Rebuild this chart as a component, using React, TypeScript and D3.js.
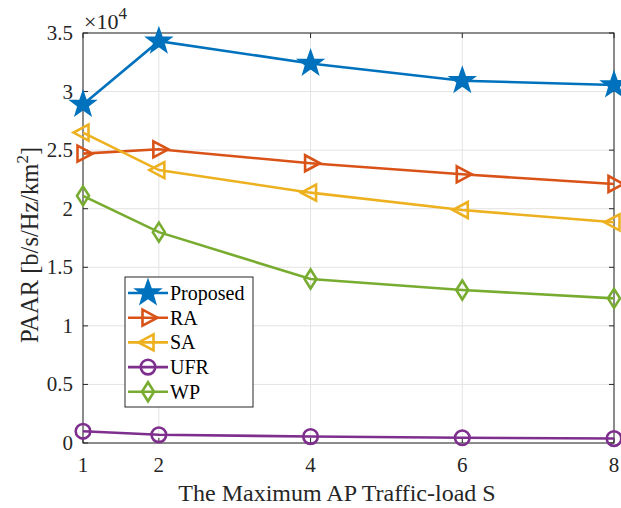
import React from "react";
import * as d3 from "d3";

const xs = [1, 2, 4, 6, 8];
const proposed = [28900, 34300, 32400, 30930, 30560];
const ra = [24700, 25070, 23880, 22940, 22110];
const sa = [26500, 23300, 21370, 19890, 18840];
const ufr = [1000, 700, 550, 450, 380];
const wp = [21100, 18000, 14000, 13060, 12350];
const seriesNames = ["Proposed", "RA", "SA", "UFR", "WP"];
const colors = ["#0072BD", "#D95319", "#EDB120", "#7E2F8E", "#77AC30"];
const markers = ["star", "tright", "tleft", "circle", "diamond"];
const yTicks = [0, 0.5, 1, 1.5, 2, 2.5, 3, 3.5];
const xTicks = [1, 2, 4, 6, 8];

const W = 621, H = 508;
const L = 83, R = 614, T = 33, B = 443;

function markerPath(type: string): string {
  if (type === "star") {
    const pts: [number, number][] = [];
    for (let i = 0; i < 10; i++) {
      const r = i % 2 === 0 ? 11.5 : 4.6;
      const a = -Math.PI / 2 + (i * Math.PI) / 5;
      pts.push([r * Math.cos(a), r * Math.sin(a)]);
    }
    return "M" + pts.map((p) => p.join(",")).join("L") + "Z";
  }
  if (type === "tright") return `M-5.5,-8L9.5,0L-5.5,8Z`;
  if (type === "tleft") return `M5.5,-8L-9.5,0L5.5,8Z`;
  if (type === "diamond") return `M0,-9.5L6,0L0,9.5L-6,0Z`;
  const r = 7.3;
  return `M${r},0A${r},${r} 0 1,1 ${-r},0A${r},${r} 0 1,1 ${r},0Z`;
}

export default function App() {
  const x = d3.scaleLinear().domain([1, 8]).range([L, R]);
  const y = d3.scaleLinear().domain([0, 3.5]).range([B, T]);
  const data = [proposed, ra, sa, ufr, wp];
  const line = d3
    .line<number>()
    .x((_, i) => x(xs[i]))
    .y((d) => y(d / 1e4));
  const font = "Liberation Serif, Times New Roman, serif";
  const legX = 125, legY = 277, legW = 128, legH = 130;
  return (
    <svg width={W} height={H} style={{ position: "absolute", left: 0, top: 0, background: "#fff", fontFamily: font }}>
      <rect x={0} y={0} width={W} height={H} fill="#fff" />
      {xTicks.map((t) => (
        <line key={"gx" + t} x1={x(t)} x2={x(t)} y1={T} y2={B} stroke="#e3e3e3" strokeWidth={1} />
      ))}
      {yTicks.map((t) => (
        <line key={"gy" + t} x1={L} x2={R} y1={y(t)} y2={y(t)} stroke="#e3e3e3" strokeWidth={1} />
      ))}
      {xTicks.map((t) => (
        <g key={"tx" + t}>
          <line x1={x(t)} x2={x(t)} y1={B} y2={B - 5} stroke="#262626" />
          <line x1={x(t)} x2={x(t)} y1={T} y2={T + 5} stroke="#262626" />
          <text x={x(t)} y={B + 29} textAnchor="middle" fontSize={21} fill="#262626">{t}</text>
        </g>
      ))}
      {yTicks.map((t) => (
        <g key={"ty" + t}>
          <line x1={L} x2={L + 5} y1={y(t)} y2={y(t)} stroke="#262626" />
          <line x1={R} x2={R - 5} y1={y(t)} y2={y(t)} stroke="#262626" />
          <text x={L - 10} y={y(t) + 7} textAnchor="end" fontSize={21} fill="#262626">{t}</text>
        </g>
      ))}
      <rect x={L} y={T} width={R - L} height={B - T} fill="none" stroke="#262626" strokeWidth={1} />
      <text x={84} y={29} fontSize={22} fill="#262626">
        ×10<tspan dy={-10} fontSize={17}>4</tspan>
      </text>
      {data.map((s, k) => (
        <g key={"s" + k}>
          <path d={line(s) || ""} fill="none" stroke={colors[k]} strokeWidth={2.6} />
          {s.map((v, i) => (
            <path
              key={i}
              d={markerPath(markers[k])}
              transform={`translate(${x(xs[i])},${y(v / 1e4)})`}
              fill={markers[k] === "star" ? colors[k] : "none"}
              stroke={colors[k]}
              strokeWidth={2.6}
            />
          ))}
        </g>
      ))}
      <rect x={legX} y={legY} width={legW} height={legH} fill="#fff" stroke="#262626" strokeWidth={1} />
      {seriesNames.map((n, k) => {
        const ly = legY + 16 + k * 24.7;
        return (
          <g key={"l" + n}>
            <line x1={legX + 3} x2={legX + 43} y1={ly} y2={ly} stroke={colors[k]} strokeWidth={2.6} />
            <path
              d={markerPath(markers[k])}
              transform={`translate(${legX + 23},${ly})`}
              fill={markers[k] === "star" ? colors[k] : "none"}
              stroke={colors[k]}
              strokeWidth={2.6}
            />
            <text x={legX + 45} y={ly + 7} fontSize={20} fill="#000">{n}</text>
          </g>
        );
      })}
      <text x={337} y={501} textAnchor="middle" fontSize={24} fill="#262626">
        The Maximum AP Traffic-load S
      </text>
      <text transform={`translate(38,245) rotate(-90)`} textAnchor="middle" fontSize={24.5} fill="#262626">
        PAAR [b/s/Hz/km<tspan dy={-10} fontSize={17}>2</tspan><tspan dy={10}>]</tspan>
      </text>
    </svg>
  );
}
